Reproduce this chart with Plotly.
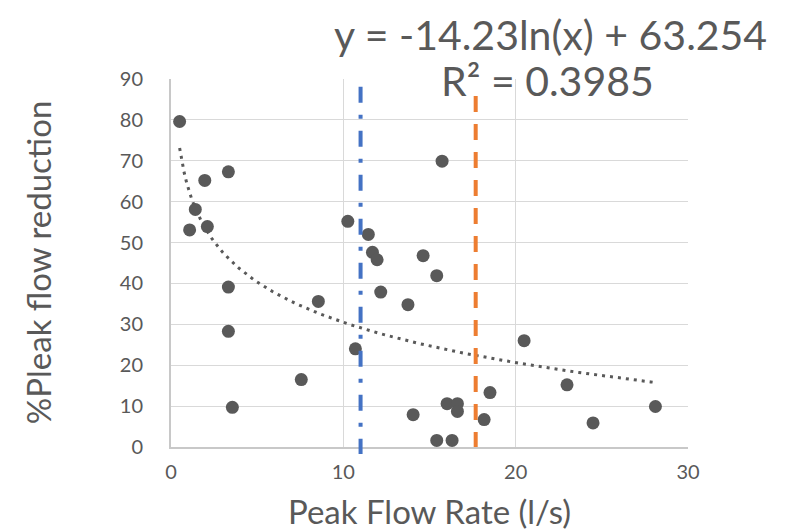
import numpy as np
import plotly.graph_objects as go

# ---- data ----
peak_flow = [0.50, 1.96, 3.33, 1.41, 1.08, 2.11, 10.26, 3.33, 8.55, 3.33, 10.70,
             7.56, 3.56, 15.73, 11.45, 11.69, 11.96, 14.63, 15.42, 12.17, 13.75,
             20.49, 18.51, 16.02, 16.62, 16.62, 14.05, 18.17, 15.42, 16.31, 22.98,
             24.49, 28.11]
pleak_reduction = [79.6, 65.2, 67.3, 58.1, 53.1, 53.9, 55.2, 39.1, 35.6, 28.3, 24.0,
                   16.5, 9.7, 69.9, 52.0, 47.6, 45.8, 46.8, 41.9, 37.9, 34.8,
                   26.0, 13.3, 10.6, 10.6, 8.7, 7.9, 6.7, 1.6, 1.6, 15.2,
                   5.9, 9.9]

# logarithmic trendline shown on the chart
trend_a = -14.23
trend_b = 63.254
trend_label = "y = -14.23ln(x) + 63.254"
r2_label = "R² = 0.3985"

blue_line_x = 11.0
orange_line_x = 17.68

x_ticks = [0, 10, 20, 30]
y_ticks = [0, 10, 20, 30, 40, 50, 60, 70, 80, 90]

FONT = "Lato"
GREY = "#595959"

tx = np.linspace(min(peak_flow), max(peak_flow), 200)
ty = trend_a * np.log(tx) + trend_b

fig = go.Figure()
fig.add_trace(go.Scatter(x=tx, y=ty, mode="lines",
                         line=dict(color=GREY, width=3, dash="3px,5px"),
                         hoverinfo="skip"))
fig.add_trace(go.Scatter(x=peak_flow, y=pleak_reduction, mode="markers",
                         marker=dict(color=GREY, size=13)))

# vertical reference lines
fig.add_shape(type="line", xref="x", yref="paper", x0=blue_line_x, x1=blue_line_x,
              y0=0.979, y1=-0.019,
              line=dict(color="#4472C4", width=4, dash="16px,12px,4px,12px"))
fig.add_shape(type="line", xref="x", yref="paper", x0=orange_line_x, x1=orange_line_x,
              y0=0.954, y1=0.0,
              line=dict(color="#ED7D31", width=4, dash="16px,12px"))

axis_common = dict(showgrid=True, gridcolor="#D9D9D9", gridwidth=1.3,
                   showline=True, linecolor="#C8C8C8", linewidth=2,
                   zeroline=False, ticks="",
                   tickfont=dict(family=FONT, size=20, color=GREY))

fig.update_xaxes(range=[0, 30], tickvals=x_ticks, ticklabelstandoff=6, **axis_common)
fig.update_yaxes(range=[0, 90], tickvals=y_ticks, ticklabelstandoff=22, **axis_common)

fig.add_annotation(text="Peak Flow Rate (l/s)", xref="paper", yref="paper",
                   x=0.5, y=-0.174, xanchor="center", yanchor="middle", showarrow=False,
                   font=dict(family=FONT, size=33, color=GREY))
fig.add_annotation(text="%Pleak flow reduction", xref="paper", yref="paper",
                   x=-0.257, y=0.5, xanchor="center", yanchor="middle", showarrow=False,
                   textangle=-90, font=dict(family=FONT, size=33, color=GREY))
fig.add_annotation(text=trend_label, xref="paper", yref="paper",
                   x=0.735, y=1.19, xanchor="center", yanchor="top", showarrow=False,
                   borderpad=0, font=dict(family=FONT, size=41, color=GREY))
fig.add_annotation(text=r2_label, xref="paper", yref="paper",
                   x=0.729, y=0.995, xanchor="center", yanchor="middle", showarrow=False,
                   borderpad=0, font=dict(family=FONT, size=41, color=GREY))

fig.update_layout(width=789, height=531, showlegend=False,
                  margin=dict(l=163, r=109, t=71, b=92),
                  paper_bgcolor="white", plot_bgcolor="white",
                  font=dict(family=FONT, color=GREY))

fig.write_html("out.html")
